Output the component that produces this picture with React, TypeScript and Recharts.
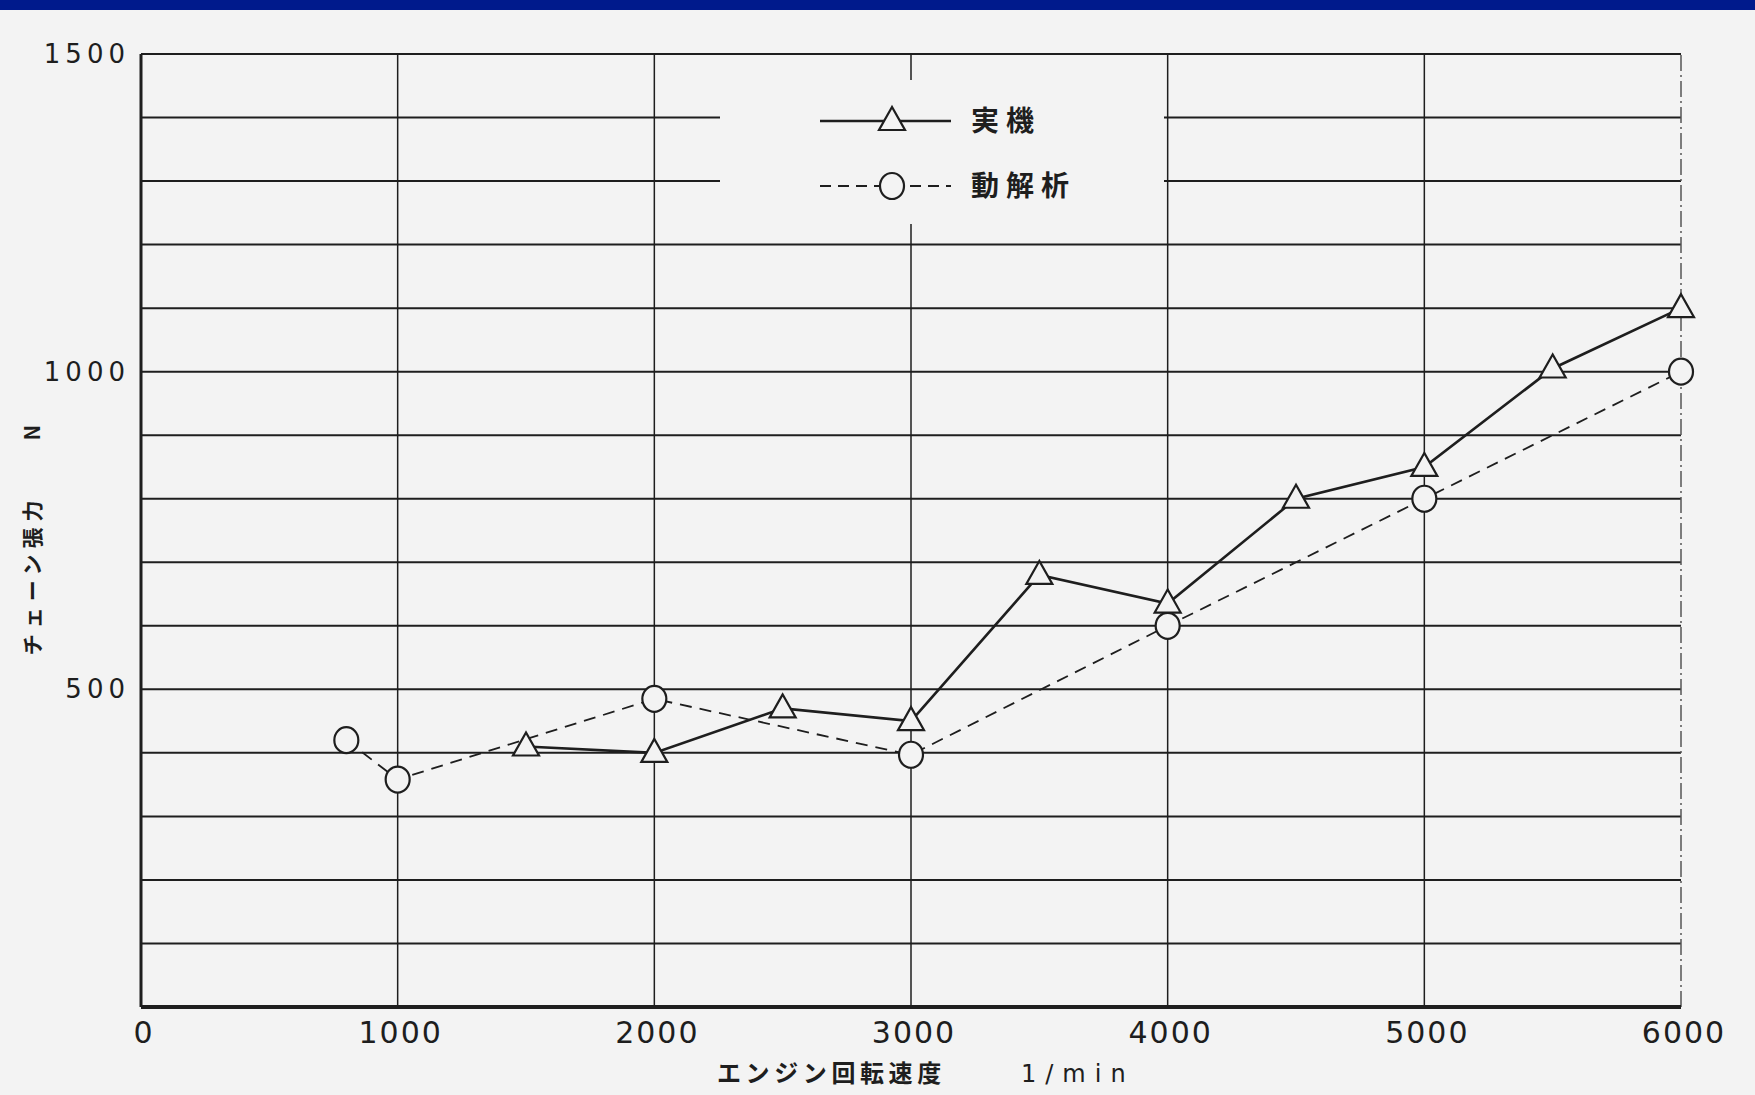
import React from "react";
import { LineChart, Line, XAxis, YAxis, CartesianGrid, ReferenceLine } from "recharts";

// 実機 (measured) chain tension vs engine speed
const jikkiRpm = [1500, 2000, 2500, 3000, 3500, 4000, 4500, 5000, 5500, 6000];
const jikkiTension = [410, 400, 470, 450, 680, 635, 800, 850, 1005, 1100];

// 動解析 (dynamic analysis)
const kaisekiRpm = [800, 1000, 2000, 3000, 4000, 5000, 6000];
const kaisekiTension = [420, 358, 485, 397, 600, 800, 1000];

const xTicks = [0, 1000, 2000, 3000, 4000, 5000, 6000];
const xGridLines = [1000, 2000, 3000, 4000, 5000];
const yTicks = [0, 100, 200, 300, 400, 500, 600, 700, 800, 900, 1000, 1100, 1200, 1300, 1400, 1500];
const yLabelTicks = [500, 1000, 1500];

const jikkiData = jikkiRpm.map((x, i) => ({ x, y: jikkiTension[i] }));
const kaisekiData = kaisekiRpm.map((x, i) => ({ x, y: kaisekiTension[i] }));

const INK = "#1e1e1e";
const PAPER = "#f3f3f3";
const NUM_FONT = "'DejaVu Sans', sans-serif";
const JP_FONT = "'Noto Sans CJK JP', sans-serif";

const Triangle = (props: any) => {
  const { cx, cy } = props;
  if (cx == null || cy == null) return <g />;
  return (
    <polygon
      points={`${cx},${cy - 14} ${cx - 13},${cy + 9} ${cx + 13},${cy + 9}`}
      fill={PAPER}
      stroke={INK}
      strokeWidth={2.2}
    />
  );
};

const Circle = (props: any) => {
  const { cx, cy } = props;
  if (cx == null || cy == null) return <g />;
  return <ellipse cx={cx} cy={cy} rx={12} ry={13} fill={PAPER} stroke={INK} strokeWidth={2.2} />;
};

const YTick = (props: any) => {
  const { y, payload } = props;
  if (!yLabelTicks.includes(payload.value)) return <g />;
  return (
    <text x={130} y={y + 9} textAnchor="end" fontFamily={NUM_FONT} fontSize={26} fontWeight={500} letterSpacing={5} fill={INK}>
      {payload.value}
    </text>
  );
};

const XTick = (props: any) => {
  const { x, payload } = props;
  return (
    <text x={x + 3} y={1043} textAnchor="middle" fontFamily={NUM_FONT} fontSize={30} fontWeight={500} letterSpacing={2} fill={INK}>
      {payload.value}
    </text>
  );
};

const XLabel = () => (
  <text x={717} y={1082} fontFamily={JP_FONT} fontSize={24} fontWeight={700} fill={INK}>
    <tspan letterSpacing={4.6}>エンジン回転速度</tspan>
    <tspan x={1021} fontFamily={NUM_FONT} fontWeight={500} letterSpacing={9}>1/min</tspan>
  </text>
);

const YLabel = () => (
  <text
    x={31}
    y={537}
    transform="rotate(-90 31 537)"
    textAnchor="middle"
    dominantBaseline="central"
    fontFamily={JP_FONT}
    fontSize={21}
    fontWeight={700}
    letterSpacing={6}
    fill={INK}
  >
    チェーン張力　　N
  </text>
);

function LegendBox() {
  return (
    <div style={{ position: "absolute", left: 720, top: 80, width: 444, height: 144, background: PAPER }}>
      <svg width={444} height={144}>
        <line x1={100} y1={41} x2={231} y2={41} stroke={INK} strokeWidth={2.6} />
        <polygon points="172,27 159,50 185,50" fill={PAPER} stroke={INK} strokeWidth={2.2} />
        <text x={251} y={51} fontFamily={JP_FONT} fontSize={28} fontWeight={700} letterSpacing={7} fill={INK}>
          実機
        </text>
        <line x1={100} y1={106} x2={231} y2={106} stroke={INK} strokeWidth={1.8} strokeDasharray="11 7" />
        <ellipse cx={172} cy={106} rx={12} ry={13} fill={PAPER} stroke={INK} strokeWidth={2.2} />
        <text x={251} y={116} fontFamily={JP_FONT} fontSize={28} fontWeight={700} letterSpacing={7} fill={INK}>
          動解析
        </text>
      </svg>
    </div>
  );
}

export default function App() {
  return (
    <div
      style={{
        position: "absolute",
        left: 0,
        top: 0,
        width: 1755,
        height: 1095,
        background: PAPER,
        overflow: "hidden",
      }}
    >
      <div style={{ position: "absolute", left: 0, top: 0, width: 1755, height: 10, background: "#001a8c" }} />
      <LineChart width={1755} height={1095} margin={{ top: 54, right: 74, bottom: 28, left: 41 }}>
        <CartesianGrid vertical={false} stroke={INK} strokeWidth={2} />
        {xGridLines.map((v) => (
          <ReferenceLine key={v} x={v} stroke={INK} strokeWidth={1.5} />
        ))}
        <ReferenceLine x={6000} stroke="#555" strokeWidth={1.5} strokeDasharray="16 4 2 4" />
        <XAxis
          dataKey="x"
          type="number"
          domain={[0, 6000]}
          ticks={xTicks}
          height={60}
          tickLine={false}
          axisLine={{ stroke: INK, strokeWidth: 4 }}
          tick={<XTick />}
          label={<XLabel />}
        />
        <YAxis
          dataKey="y"
          type="number"
          domain={[0, 1500]}
          ticks={yTicks}
          width={100}
          tickLine={false}
          axisLine={{ stroke: INK, strokeWidth: 3 }}
          tick={<YTick />}
          label={<YLabel />}
        />
        <Line
          data={kaisekiData}
          dataKey="y"
          type="linear"
          stroke={INK}
          strokeWidth={1.8}
          strokeDasharray="12 8"
          dot={<Circle />}
          isAnimationActive={false}
        />
        <Line
          data={jikkiData}
          dataKey="y"
          type="linear"
          stroke={INK}
          strokeWidth={2.6}
          dot={<Triangle />}
          isAnimationActive={false}
        />
      </LineChart>
      <LegendBox />
    </div>
  );
}
